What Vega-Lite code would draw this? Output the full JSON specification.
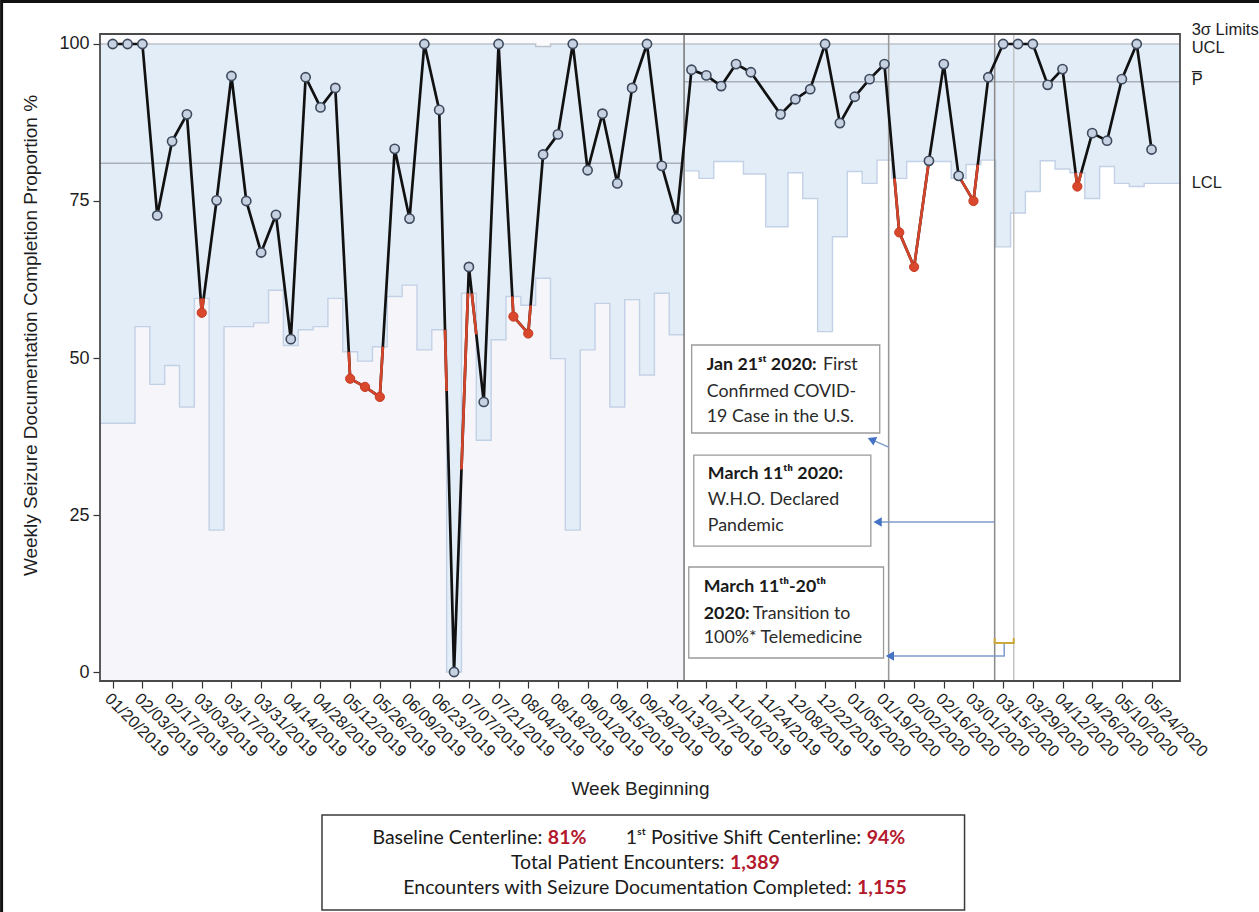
{
  "$schema": "https://vega.github.io/schema/vega-lite/v6.json",
  "width": 1080,
  "height": 647,
  "autosize": {"type": "none"},
  "padding": {"left": 100, "top": 34, "right": 79, "bottom": 231},
  "background": "#ffffff",
  "config": {
    "view": {"stroke": null},
    "axis": {"labelFont": "Liberation Sans", "titleFont": "Liberation Sans", "labelColor": "#1e1e1e", "titleColor": "#1e1e1e", "tickColor": "#333333", "domain": false, "grid": false}
  },
  "datasets": {
    "main": [
      {"t":"2019-01-20","v":100,"o":0},{"t":"2019-01-27","v":100,"o":0},{"t":"2019-02-03","v":100,"o":0},{"t":"2019-02-10","v":72.7,"o":0},
      {"t":"2019-02-17","v":84.5,"o":0},{"t":"2019-02-24","v":88.8,"o":0},{"t":"2019-03-03","v":57.2,"o":1},{"t":"2019-03-10","v":75.1,"o":0},
      {"t":"2019-03-17","v":94.9,"o":0},{"t":"2019-03-24","v":75.0,"o":0},{"t":"2019-03-31","v":66.8,"o":0},{"t":"2019-04-07","v":72.8,"o":0},
      {"t":"2019-04-14","v":53.0,"o":0},{"t":"2019-04-21","v":94.7,"o":0},{"t":"2019-04-28","v":89.9,"o":0},{"t":"2019-05-05","v":93.0,"o":0},
      {"t":"2019-05-12","v":46.7,"o":1},{"t":"2019-05-19","v":45.4,"o":1},{"t":"2019-05-26","v":43.8,"o":1},{"t":"2019-06-02","v":83.3,"o":0},
      {"t":"2019-06-09","v":72.2,"o":0},{"t":"2019-06-16","v":100,"o":0},{"t":"2019-06-23","v":89.5,"o":0},{"t":"2019-06-30","v":0,"o":0},
      {"t":"2019-07-07","v":64.5,"o":0},{"t":"2019-07-14","v":43.0,"o":0},{"t":"2019-07-21","v":100,"o":0},{"t":"2019-07-28","v":56.6,"o":1},
      {"t":"2019-08-04","v":53.9,"o":1},{"t":"2019-08-11","v":82.4,"o":0},{"t":"2019-08-18","v":85.6,"o":0},{"t":"2019-08-25","v":100,"o":0},
      {"t":"2019-09-01","v":79.9,"o":0},{"t":"2019-09-08","v":88.9,"o":0},{"t":"2019-09-15","v":77.8,"o":0},{"t":"2019-09-22","v":93.0,"o":0},
      {"t":"2019-09-29","v":100,"o":0},{"t":"2019-10-06","v":80.6,"o":0},{"t":"2019-10-13","v":72.2,"o":0},{"t":"2019-10-20","v":95.9,"o":0},
      {"t":"2019-10-27","v":95.0,"o":0},{"t":"2019-11-03","v":93.3,"o":0},{"t":"2019-11-10","v":96.8,"o":0},{"t":"2019-11-17","v":95.5,"o":0},
      {"t":"2019-12-01","v":88.8,"o":0},{"t":"2019-12-08","v":91.2,"o":0},{"t":"2019-12-15","v":92.8,"o":0},{"t":"2019-12-22","v":100,"o":0},
      {"t":"2019-12-29","v":87.4,"o":0},{"t":"2020-01-05","v":91.6,"o":0},{"t":"2020-01-12","v":94.4,"o":0},{"t":"2020-01-19","v":96.8,"o":0},
      {"t":"2020-01-26","v":70.0,"o":1},{"t":"2020-02-02","v":64.5,"o":1},{"t":"2020-02-09","v":81.4,"o":0},{"t":"2020-02-16","v":96.8,"o":0},
      {"t":"2020-02-23","v":79.0,"o":0},{"t":"2020-03-01","v":75.0,"o":1},{"t":"2020-03-08","v":94.7,"o":0},{"t":"2020-03-15","v":100,"o":0},
      {"t":"2020-03-22","v":100,"o":0},{"t":"2020-03-29","v":100,"o":0},{"t":"2020-04-05","v":93.5,"o":0},{"t":"2020-04-12","v":96.0,"o":0},
      {"t":"2020-04-19","v":77.3,"o":1},{"t":"2020-04-26","v":85.8,"o":0},{"t":"2020-05-03","v":84.6,"o":0},{"t":"2020-05-10","v":94.4,"o":0},
      {"t":"2020-05-17","v":100,"o":0},{"t":"2020-05-24","v":83.2,"o":0}
    ],
    "limits": [
      {"t":"2019-01-14","lcl":39.6,"ucl":100,"ph":"B"},
      {"t":"2019-01-20","lcl":39.6,"ucl":100,"ph":"B"},{"t":"2019-01-27","lcl":39.6,"ucl":100,"ph":"B"},{"t":"2019-02-03","lcl":55.0,"ucl":100,"ph":"B"},
      {"t":"2019-02-10","lcl":45.8,"ucl":100,"ph":"B"},{"t":"2019-02-17","lcl":48.8,"ucl":100,"ph":"B"},{"t":"2019-02-24","lcl":42.2,"ucl":100,"ph":"B"},
      {"t":"2019-03-03","lcl":59.5,"ucl":100,"ph":"B"},{"t":"2019-03-10","lcl":22.6,"ucl":100,"ph":"B"},{"t":"2019-03-17","lcl":55.0,"ucl":100,"ph":"B"},
      {"t":"2019-03-24","lcl":55.0,"ucl":100,"ph":"B"},{"t":"2019-03-31","lcl":55.6,"ucl":100,"ph":"B"},{"t":"2019-04-07","lcl":60.8,"ucl":100,"ph":"B"},
      {"t":"2019-04-14","lcl":52.0,"ucl":100,"ph":"B"},{"t":"2019-04-21","lcl":54.5,"ucl":100,"ph":"B"},{"t":"2019-04-28","lcl":55.0,"ucl":100,"ph":"B"},
      {"t":"2019-05-05","lcl":59.5,"ucl":100,"ph":"B"},{"t":"2019-05-12","lcl":51.0,"ucl":100,"ph":"B"},{"t":"2019-05-19","lcl":49.5,"ucl":100,"ph":"B"},
      {"t":"2019-05-26","lcl":51.8,"ucl":100,"ph":"B"},{"t":"2019-06-02","lcl":59.8,"ucl":100,"ph":"B"},{"t":"2019-06-09","lcl":61.6,"ucl":100,"ph":"B"},
      {"t":"2019-06-16","lcl":51.3,"ucl":100,"ph":"B"},{"t":"2019-06-23","lcl":54.5,"ucl":100,"ph":"B"},{"t":"2019-06-30","lcl":0,"ucl":100,"ph":"B"},
      {"t":"2019-07-07","lcl":60.3,"ucl":100,"ph":"B"},{"t":"2019-07-14","lcl":36.9,"ucl":100,"ph":"B"},{"t":"2019-07-21","lcl":52.9,"ucl":100,"ph":"B"},
      {"t":"2019-07-28","lcl":59.8,"ucl":100,"ph":"B"},{"t":"2019-08-04","lcl":58.4,"ucl":100,"ph":"B"},{"t":"2019-08-11","lcl":62.7,"ucl":99.6,"ph":"B"},
      {"t":"2019-08-18","lcl":49.9,"ucl":100,"ph":"B"},{"t":"2019-08-25","lcl":22.6,"ucl":100,"ph":"B"},{"t":"2019-09-01","lcl":51.3,"ucl":100,"ph":"B"},
      {"t":"2019-09-08","lcl":58.7,"ucl":100,"ph":"B"},{"t":"2019-09-15","lcl":42.2,"ucl":100,"ph":"B"},{"t":"2019-09-22","lcl":59.3,"ucl":100,"ph":"B"},
      {"t":"2019-09-29","lcl":47.3,"ucl":100,"ph":"B"},{"t":"2019-10-06","lcl":60.3,"ucl":100,"ph":"B"},{"t":"2019-10-13","lcl":53.7,"ucl":100,"ph":"B"},
      {"t":"2019-10-16T12:00Z","lcl":53.7,"ucl":100,"ph":"B"},
      {"t":"2019-10-16T12:00Z","lcl":79.8,"ucl":100,"ph":"S"},
      {"t":"2019-10-20","lcl":79.8,"ucl":100,"ph":"S"},{"t":"2019-10-27","lcl":78.6,"ucl":100,"ph":"S"},{"t":"2019-11-03","lcl":81.3,"ucl":100,"ph":"S"},
      {"t":"2019-11-10","lcl":81.3,"ucl":100,"ph":"S"},{"t":"2019-11-17","lcl":79.3,"ucl":100,"ph":"S"},{"t":"2019-12-01","lcl":70.9,"ucl":100,"ph":"S"},
      {"t":"2019-12-08","lcl":79.5,"ucl":100,"ph":"S"},{"t":"2019-12-15","lcl":75.4,"ucl":100,"ph":"S"},{"t":"2019-12-22","lcl":54.2,"ucl":100,"ph":"S"},
      {"t":"2019-12-29","lcl":69.3,"ucl":100,"ph":"S"},{"t":"2020-01-05","lcl":79.7,"ucl":100,"ph":"S"},{"t":"2020-01-12","lcl":77.8,"ucl":100,"ph":"S"},
      {"t":"2020-01-19","lcl":81.5,"ucl":100,"ph":"S"},{"t":"2020-01-26","lcl":78.6,"ucl":100,"ph":"S"},{"t":"2020-02-02","lcl":81.3,"ucl":100,"ph":"S"},
      {"t":"2020-02-09","lcl":81.3,"ucl":100,"ph":"S"},{"t":"2020-02-16","lcl":81.3,"ucl":100,"ph":"S"},{"t":"2020-02-23","lcl":78.6,"ucl":100,"ph":"S"},
      {"t":"2020-03-01","lcl":80.8,"ucl":100,"ph":"S"},{"t":"2020-03-08","lcl":81.5,"ucl":100,"ph":"S"},{"t":"2020-03-15","lcl":67.7,"ucl":100,"ph":"S"},
      {"t":"2020-03-22","lcl":73.1,"ucl":100,"ph":"S"},{"t":"2020-03-29","lcl":76.5,"ucl":100,"ph":"S"},{"t":"2020-04-05","lcl":81.4,"ucl":100,"ph":"S"},
      {"t":"2020-04-12","lcl":80.1,"ucl":100,"ph":"S"},{"t":"2020-04-19","lcl":79.5,"ucl":100,"ph":"S"},{"t":"2020-04-26","lcl":75.4,"ucl":100,"ph":"S"},
      {"t":"2020-05-03","lcl":80.5,"ucl":100,"ph":"S"},{"t":"2020-05-10","lcl":77.8,"ucl":100,"ph":"S"},{"t":"2020-05-17","lcl":77.3,"ucl":100,"ph":"S"},
      {"t":"2020-05-24","lcl":77.8,"ucl":100,"ph":"S"},
      {"t":"2020-06-06T10:00Z","lcl":77.8,"ucl":100,"ph":"S"}
    ],
    "phases": [
      {"phase":"Baseline","t":"2019-01-14","t2":"2019-10-16T12:00Z","cl":81},
      {"phase":"Shift","t":"2019-10-16T12:00Z","t2":"2020-06-06T10:00Z","cl":94}
    ],
    "frame": [
      {"t":"2019-01-14","t2":"2020-06-06T10:00Z"}
    ],
    "border": [
      {"t":"2018-11-28T14:00Z","t2":"2020-07-20T00:00Z","v":106.75,"v2":-40}
    ],
    "red": [
      {"g":1,"t":"2019-03-02T12:00Z","v":59.5},{"g":1,"t":"2019-03-03","v":57.2},{"g":1,"t":"2019-03-03T22:00Z","v":59.5},
      {"g":2,"t":"2019-05-11T08:00Z","v":51.0},{"g":2,"t":"2019-05-12","v":46.7},{"g":2,"t":"2019-05-19","v":45.4},{"g":2,"t":"2019-05-26","v":43.8},{"g":2,"t":"2019-05-27T10:00Z","v":51.8},
      {"g":3,"t":"2019-06-25T18:00Z","v":54.5},{"g":3,"t":"2019-06-26T12:00Z","v":44.75},
      {"g":4,"t":"2019-07-03T12:00Z","v":32.25},{"g":4,"t":"2019-07-06T13:00Z","v":60.3},
      {"g":9,"t":"2019-07-08T09:00Z","v":60.3},{"g":9,"t":"2019-07-10T12:00Z","v":53.75},
      {"g":5,"t":"2019-07-27T12:00Z","v":59.8},{"g":5,"t":"2019-07-28","v":56.6},{"g":5,"t":"2019-08-04","v":53.9},{"g":5,"t":"2019-08-05T03:00Z","v":58.4},
      {"g":6,"t":"2020-01-23T18:00Z","v":78.6},{"g":6,"t":"2020-01-26","v":70.0},{"g":6,"t":"2020-02-02","v":64.5},{"g":6,"t":"2020-02-08T23:00Z","v":81.3},
      {"g":7,"t":"2020-02-23T17:00Z","v":78.6},{"g":7,"t":"2020-03-01","v":75.0},{"g":7,"t":"2020-03-03T01:30Z","v":80.8},
      {"g":8,"t":"2020-04-18T04:00Z","v":79.5},{"g":8,"t":"2020-04-19","v":77.3},{"g":8,"t":"2020-04-20T19:30Z","v":79.5}
    ],
    "events": [
      {"t":"2019-10-16T12:00Z","k":"phase"},
      {"t":"2020-01-21","k":"first case"},
      {"t":"2020-03-11","k":"pandemic"},
      {"t":"2020-03-20","k":"telemedicine"}
    ],
    "boxes": [
      {"b":"note","t":"2019-10-20T02:00Z","t2":"2020-01-16T19:00Z","v":52.07,"v2":38.06},
      {"b":"note","t":"2019-10-21T02:00Z","t2":"2020-01-12T14:00Z","v":34.55,"v2":20.06},
      {"b":"note","t":"2019-10-18T17:00Z","t2":"2020-01-18T14:00Z","v":16.72,"v2":2.23},
      {"b":"stats","t":"2019-04-28T17:00Z","t2":"2020-02-25T19:00Z","v":-22.77,"v2":-37.9}
    ],
    "arrows": [
      {"id":"a1","s":1,"t":"2020-01-21","v":35.8},{"id":"a1","s":2,"t":"2020-01-12T22:00Z","v":37.0},
      {"id":"a2","s":1,"t":"2020-03-11","v":23.9},{"id":"a2","s":2,"t":"2020-01-15T19:00Z","v":23.9},
      {"id":"a3","s":1,"t":"2020-03-15T12:00Z","v":4.62},{"id":"a3","s":2,"t":"2020-03-15T12:00Z","v":2.55},{"id":"a3","s":3,"t":"2020-01-21T14:00Z","v":2.55}
    ],
    "heads": [
      {"id":"a1","t":"2020-01-12T22:00Z","v":37.0},
      {"id":"a2","t":"2020-01-15T19:00Z","v":23.9},
      {"id":"a3","t":"2020-01-21T14:00Z","v":2.55}
    ],
    "bracket": [
      {"s":1,"t":"2020-03-11","v":5.41},{"s":2,"t":"2020-03-11","v":4.62},{"s":3,"t":"2020-03-20","v":4.62},{"s":4,"t":"2020-03-20","v":5.41}
    ],
    "notes": [
      {"k":"b","t":"2019-10-27T05:00Z","v":48.9,"txt":"Jan 21ˢᵗ 2020:"},
      {"k":"n","t":"2019-12-21T00:00Z","v":48.9,"txt":"First"},
      {"k":"n","t":"2019-10-27T05:00Z","v":44.6,"txt":"Confirmed COVID-"},
      {"k":"n","t":"2019-10-27T05:00Z","v":40.6,"txt":"19 Case in the U.S."},
      {"k":"b","t":"2019-10-27T17:00Z","v":31.5,"txt":"March 11ᵗʰ 2020:"},
      {"k":"n","t":"2019-10-27T17:00Z","v":27.4,"txt":"W.H.O. Declared"},
      {"k":"n","t":"2019-10-27T17:00Z","v":23.2,"txt":"Pandemic"},
      {"k":"b","t":"2019-10-25T19:00Z","v":13.5,"txt":"March 11ᵗʰ-20ᵗʰ"},
      {"k":"b","t":"2019-10-25T19:00Z","v":9.2,"txt":"2020:"},
      {"k":"n","t":"2019-11-17T22:00Z","v":9.2,"txt":"Transition to"},
      {"k":"n","t":"2019-10-25T19:00Z","v":5.4,"txt":"100%* Telemedicine"},
      {"k":"sl","t":"2019-08-11T14:00Z","v":-26.4,"txt":"Baseline Centerline:"},
      {"k":"sv","t":"2019-08-11T14:00Z","v":-26.4,"txt":"81%"},
      {"k":"sl","t":"2020-01-09T00:00Z","v":-26.4,"txt":"1ˢᵗ Positive Shift Centerline:"},
      {"k":"sv","t":"2020-01-09T00:00Z","v":-26.4,"txt":"94%"},
      {"k":"sl","t":"2019-11-05T12:00Z","v":-30.4,"txt":"Total Patient Encounters:"},
      {"k":"sv","t":"2019-11-05T12:00Z","v":-30.4,"txt":"1,389"},
      {"k":"sl","t":"2020-01-04T10:00Z","v":-34.4,"txt":"Encounters with Seizure Documentation Completed:"},
      {"k":"sv","t":"2020-01-04T10:00Z","v":-34.4,"txt":"1,155"},
      {"k":"r","t":"2020-06-11T22:00Z","v":102.2,"txt":"3σ Limits"},
      {"k":"r","t":"2020-06-11T22:00Z","v":99.4,"txt":"UCL"},
      {"k":"r","t":"2020-06-11T22:00Z","v":94.3,"txt":"P̅"},
      {"k":"r","t":"2020-06-11T22:00Z","v":77.9,"txt":"LCL"}
    ]
  },
  "encoding": {
    "x": {
      "field": "t", "type": "temporal",
      "scale": {"type": "utc", "domain": [{"year":2019,"month":1,"date":14,"utc":true},{"year":2020,"month":6,"date":6,"hours":10,"utc":true}]},
      "axis": {
        "title": "Week Beginning", "titleFontSize": 19, "titleFontWeight": "normal", "titleY": 98,
        "labelExpr": "utcFormat(datum.value, '%m/%d/%Y')", "labelAngle": 45, "labelAlign": "left", "labelBaseline": "top",
        "labelFontSize": 16.5, "labelOverlap": false, "labelPadding": 2, "tickSize": 7, "tickWidth": 1.2,
        "values": [
          {"year":2019,"month":1,"date":20,"utc":true},{"year":2019,"month":2,"date":3,"utc":true},{"year":2019,"month":2,"date":17,"utc":true},
          {"year":2019,"month":3,"date":3,"utc":true},{"year":2019,"month":3,"date":17,"utc":true},{"year":2019,"month":3,"date":31,"utc":true},
          {"year":2019,"month":4,"date":14,"utc":true},{"year":2019,"month":4,"date":28,"utc":true},{"year":2019,"month":5,"date":12,"utc":true},
          {"year":2019,"month":5,"date":26,"utc":true},{"year":2019,"month":6,"date":9,"utc":true},{"year":2019,"month":6,"date":23,"utc":true},
          {"year":2019,"month":7,"date":7,"utc":true},{"year":2019,"month":7,"date":21,"utc":true},{"year":2019,"month":8,"date":4,"utc":true},
          {"year":2019,"month":8,"date":18,"utc":true},{"year":2019,"month":9,"date":1,"utc":true},{"year":2019,"month":9,"date":15,"utc":true},
          {"year":2019,"month":9,"date":29,"utc":true},{"year":2019,"month":10,"date":13,"utc":true},{"year":2019,"month":10,"date":27,"utc":true},
          {"year":2019,"month":11,"date":10,"utc":true},{"year":2019,"month":11,"date":24,"utc":true},{"year":2019,"month":12,"date":8,"utc":true},
          {"year":2019,"month":12,"date":22,"utc":true},{"year":2020,"month":1,"date":5,"utc":true},{"year":2020,"month":1,"date":19,"utc":true},
          {"year":2020,"month":2,"date":2,"utc":true},{"year":2020,"month":2,"date":16,"utc":true},{"year":2020,"month":3,"date":1,"utc":true},
          {"year":2020,"month":3,"date":15,"utc":true},{"year":2020,"month":3,"date":29,"utc":true},{"year":2020,"month":4,"date":12,"utc":true},
          {"year":2020,"month":4,"date":26,"utc":true},{"year":2020,"month":5,"date":10,"utc":true},{"year":2020,"month":5,"date":24,"utc":true}
        ]
      }
    }
  },
  "layer": [
    {
      "data": {"name": "phases"},
      "transform": [{"filter": "datum.phase === 'Baseline'"}],
      "mark": {"type": "rect", "fill": "#F5F5FA"},
      "encoding": {"x2": {"field": "t2"}}
    },
    {
      "data": {"name": "limits"},
      "mark": {"type": "area", "interpolate": "step", "fill": "#E3EDF8", "opacity": 1},
      "encoding": {
        "y": {"field": "lcl", "type": "quantitative", "scale": {"domain": [-1.43, 101.59], "nice": false, "zero": false}},
        "y2": {"field": "ucl"},
        "detail": {"field": "ph"}
      }
    },
    {
      "data": {"name": "limits"},
      "mark": {"type": "area", "interpolate": "step", "fill": "#FBFBFD", "opacity": 1},
      "encoding": {
        "y": {"field": "ucl", "type": "quantitative", "scale": {"domain": [-1.43, 101.59], "nice": false, "zero": false}},
        "y2": {"datum": 101.59},
        "detail": {"field": "ph"}
      }
    },
    {
      "data": {"name": "limits"},
      "mark": {"type": "line", "interpolate": "step", "stroke": "#C2D1E5", "strokeWidth": 1.4},
      "encoding": {
        "y": {"field": "lcl", "type": "quantitative", "scale": {"domain": [-1.43, 101.59], "nice": false, "zero": false}},
        "detail": {"field": "ph"}
      }
    },
    {
      "data": {"name": "limits"},
      "mark": {"type": "line", "interpolate": "step", "stroke": "#BCC2CC", "strokeWidth": 1.4},
      "encoding": {
        "y": {"field": "ucl", "type": "quantitative", "scale": {"domain": [-1.43, 101.59], "nice": false, "zero": false}},
        "detail": {"field": "ph"}
      }
    },
    {
      "data": {"name": "phases"},
      "mark": {"type": "rule", "stroke": "#A9AFB9", "strokeWidth": 1.5},
      "encoding": {
        "x2": {"field": "t2"},
        "y": {"field": "cl", "type": "quantitative", "scale": {"domain": [-1.43, 101.59], "nice": false, "zero": false}}
      }
    },
    {
      "data": {"name": "events"},
      "mark": {"type": "rule"},
      "encoding": {
        "color": {"field": "k", "type": "nominal", "scale": {"domain": ["phase", "first case", "pandemic", "telemedicine"], "range": ["#7d7d7d", "#999999", "#8a8a8a", "#c4c4c4"]}, "legend": null},
        "strokeWidth": {"field": "k", "type": "nominal", "scale": {"domain": ["phase", "first case", "pandemic", "telemedicine"], "range": [1.6, 1.5, 2, 3]}, "legend": null}
      }
    },
    {
      "data": {"name": "boxes"},
      "transform": [{"filter": "datum.b === 'note'"}],
      "mark": {"type": "rect", "fill": "#ffffff", "stroke": "#9a9a9a", "strokeWidth": 1.3, "clip": false},
      "encoding": {
        "x2": {"field": "t2"},
        "y": {"field": "v", "type": "quantitative", "scale": {"domain": [-1.43, 101.59], "nice": false, "zero": false}},
        "y2": {"field": "v2"}
      }
    },
    {
      "data": {"name": "boxes"},
      "transform": [{"filter": "datum.b === 'stats'"}],
      "mark": {"type": "rect", "fill": "#ffffff", "stroke": "#3a3a3a", "strokeWidth": 1.5, "clip": false},
      "encoding": {
        "x2": {"field": "t2"},
        "y": {"field": "v", "type": "quantitative", "scale": {"domain": [-1.43, 101.59], "nice": false, "zero": false}},
        "y2": {"field": "v2"}
      }
    },
    {
      "data": {"name": "arrows"},
      "mark": {"type": "line", "stroke": "#7F9CCB", "strokeWidth": 1.5},
      "encoding": {
        "y": {"field": "v", "type": "quantitative", "scale": {"domain": [-1.43, 101.59], "nice": false, "zero": false}},
        "detail": {"field": "id"},
        "order": {"field": "s"}
      }
    },
    {
      "data": {"name": "heads"},
      "transform": [{"filter": "datum.id !== 'a1'"}],
      "mark": {"type": "point", "shape": "triangle-left", "filled": true, "fill": "#4472C4", "size": 90, "opacity": 1},
      "encoding": {
        "y": {"field": "v", "type": "quantitative", "scale": {"domain": [-1.43, 101.59], "nice": false, "zero": false}}
      }
    },
    {
      "data": {"name": "heads"},
      "transform": [{"filter": "datum.id === 'a1'"}],
      "mark": {"type": "point", "shape": "triangle-left", "filled": true, "fill": "#4472C4", "size": 90, "angle": 23, "opacity": 1},
      "encoding": {
        "y": {"field": "v", "type": "quantitative", "scale": {"domain": [-1.43, 101.59], "nice": false, "zero": false}}
      }
    },
    {
      "data": {"name": "bracket"},
      "mark": {"type": "line", "stroke": "#C9A93A", "strokeWidth": 2},
      "encoding": {
        "y": {"field": "v", "type": "quantitative", "scale": {"domain": [-1.43, 101.59], "nice": false, "zero": false}},
        "order": {"field": "s"}
      }
    },
    {
      "data": {"name": "main"},
      "mark": {"type": "line", "stroke": "#111111", "strokeWidth": 2.7},
      "encoding": {
        "y": {
          "field": "v", "type": "quantitative",
          "scale": {"domain": [-1.43, 101.59], "nice": false, "zero": false},
          "axis": {
            "title": "Weekly Seizure Documentation Completion Proportion %", "titleFontSize": 19, "titleFontWeight": "normal",
            "titleX": -70, "titleY": 301, "titleBaseline": "middle",
            "values": [0, 25, 50, 75, 100], "labelFontSize": 18, "labelPadding": 4, "tickSize": 7, "tickWidth": 1.2
          }
        }
      }
    },
    {
      "data": {"name": "red"},
      "mark": {"type": "line", "stroke": "#D2452B", "strokeWidth": 2.7},
      "encoding": {
        "y": {"field": "v", "type": "quantitative", "scale": {"domain": [-1.43, 101.59], "nice": false, "zero": false}},
        "detail": {"field": "g"}
      }
    },
    {
      "data": {"name": "main"},
      "transform": [{"filter": "datum.o === 0"}],
      "mark": {"type": "point", "shape": "circle", "filled": true, "fill": "#C6D1E2", "stroke": "#3E4A5C", "strokeWidth": 1.6, "size": 85, "opacity": 1},
      "encoding": {
        "y": {"field": "v", "type": "quantitative", "scale": {"domain": [-1.43, 101.59], "nice": false, "zero": false}}
      }
    },
    {
      "data": {"name": "main"},
      "transform": [{"filter": "datum.o === 1"}],
      "mark": {"type": "point", "shape": "circle", "filled": true, "fill": "#D9472C", "stroke": "#C43B22", "strokeWidth": 1, "size": 85, "opacity": 1},
      "encoding": {
        "y": {"field": "v", "type": "quantitative", "scale": {"domain": [-1.43, 101.59], "nice": false, "zero": false}}
      }
    },
    {
      "data": {"name": "notes"},
      "transform": [{"filter": "datum.k === 'b'"}],
      "mark": {"type": "text", "align": "left", "baseline": "middle", "font": "Lato", "fontSize": 17.8, "fontWeight": "bold", "color": "#1a1a1a", "clip": false},
      "encoding": {
        "y": {"field": "v", "type": "quantitative", "scale": {"domain": [-1.43, 101.59], "nice": false, "zero": false}},
        "text": {"field": "txt"}
      }
    },
    {
      "data": {"name": "notes"},
      "transform": [{"filter": "datum.k === 'n'"}],
      "mark": {"type": "text", "align": "left", "baseline": "middle", "font": "Lato", "fontSize": 17.8, "color": "#2a2a2a", "clip": false},
      "encoding": {
        "y": {"field": "v", "type": "quantitative", "scale": {"domain": [-1.43, 101.59], "nice": false, "zero": false}},
        "text": {"field": "txt"}
      }
    },
    {
      "data": {"name": "notes"},
      "transform": [{"filter": "datum.k === 'sl'"}],
      "mark": {"type": "text", "align": "right", "baseline": "middle", "dx": -2, "font": "Lato", "fontSize": 19.5, "color": "#1a1a1a", "clip": false},
      "encoding": {
        "y": {"field": "v", "type": "quantitative", "scale": {"domain": [-1.43, 101.59], "nice": false, "zero": false}},
        "text": {"field": "txt"}
      }
    },
    {
      "data": {"name": "notes"},
      "transform": [{"filter": "datum.k === 'sv'"}],
      "mark": {"type": "text", "align": "left", "baseline": "middle", "dx": 3.5, "font": "Lato", "fontSize": 19.5, "fontWeight": "bold", "color": "#B3182D", "clip": false},
      "encoding": {
        "y": {"field": "v", "type": "quantitative", "scale": {"domain": [-1.43, 101.59], "nice": false, "zero": false}},
        "text": {"field": "txt"}
      }
    },
    {
      "data": {"name": "notes"},
      "transform": [{"filter": "datum.k === 'r'"}],
      "mark": {"type": "text", "align": "left", "baseline": "middle", "font": "Liberation Sans", "fontSize": 16.5, "color": "#1e1e1e", "clip": false},
      "encoding": {
        "y": {"field": "v", "type": "quantitative", "scale": {"domain": [-1.43, 101.59], "nice": false, "zero": false}},
        "text": {"field": "txt"}
      }
    },
    {
      "data": {"name": "frame"},
      "mark": {"type": "rect", "filled": false, "fill": null, "stroke": "#4a4a4a", "strokeWidth": 1.8},
      "encoding": {"x2": {"field": "t2"}}
    },
    {
      "data": {"name": "border"},
      "mark": {"type": "rect", "filled": false, "fill": null, "stroke": "#111111", "strokeWidth": 3, "clip": false},
      "encoding": {
        "x2": {"field": "t2"},
        "y": {"field": "v", "type": "quantitative", "scale": {"domain": [-1.43, 101.59], "nice": false, "zero": false}},
        "y2": {"field": "v2"}
      }
    }
  ]
}
